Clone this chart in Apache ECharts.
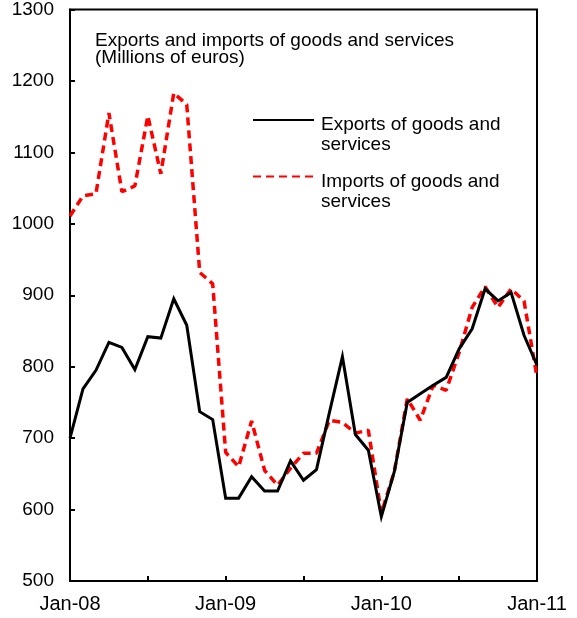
<!DOCTYPE html>
<html><head><meta charset="utf-8">
<script src="https://cdn.jsdelivr.net/npm/echarts@6/dist/echarts.min.js"></script>
<style>html,body{margin:0;padding:0;background:#fff}#c{width:577px;height:618px}</style>
</head><body><div id="c"></div>
<script>
const months = ['Jan-08','Feb-08','Mar-08','Apr-08','May-08','Jun-08','Jul-08','Aug-08','Sep-08','Oct-08','Nov-08','Dec-08',
'Jan-09','Feb-09','Mar-09','Apr-09','May-09','Jun-09','Jul-09','Aug-09','Sep-09','Oct-09','Nov-09','Dec-09',
'Jan-10','Feb-10','Mar-10','Apr-10','May-10','Jun-10','Jul-10','Aug-10','Sep-10','Oct-10','Nov-10','Dec-10','Jan-11'];
const exportsData = [700,769,795,834,827,796,842,840,895,858,737,726,
616,616,646,626,626,668,641,656,736,814,705,683,
590,653,750,762,774,785,825,853,909,892,904,844,802];
const importsData = [1011,1039,1042,1155,1045,1053,1151,1070,1183,1167,932,916,
680,660,724,655,634,658,679,679,725,722,707,711,
595,653,755,725,774,767,820,883,912,883,909,892,785];
const yTicks = {min:500, max:1300, step:100};
const seriesNames = ['Exports of goods and services','Imports of goods and services'];
const legendLines = {'Exports of goods and services':['Exports of goods and','services'],'Imports of goods and services':['Imports of goods and','services']};
const titleText = 'Exports and imports of goods and services\n(Millions of euros)';

const font = 'Liberation Sans, Arial, sans-serif';
const chart = echarts.init(document.getElementById('c'));
chart.setOption({
  animation:false,
  backgroundColor:'#fff',
  title:{text:titleText,left:90,top:27,textStyle:{fontFamily:font,fontSize:19,fontWeight:'normal',color:'#000',lineHeight:17}},
  legend:{orient:'vertical',left:247,top:80,itemWidth:61,itemHeight:14,itemGap:-13,
    data:seriesNames,
    formatter:n=>'{g| }\n' + legendLines[n].map(s=>'{t|'+s+'}').join('\n'),
    itemStyle:{opacity:0,color:'rgba(0,0,0,0)',borderWidth:0},
    textStyle:{fontFamily:font,fontSize:19,color:'#000',padding:[0,0,0,2],
      rich:{g:{fontSize:1,lineHeight:30,height:30},t:{fontFamily:font,fontSize:19,color:'#000',lineHeight:20}}}},
  grid:{left:70,right:40,top:9,bottom:37,show:true,borderColor:'#000',borderWidth:2},
  xAxis:{type:'category',data:months,boundaryGap:false,
    axisLine:{lineStyle:{color:'#000',width:2}},
    axisTick:{inside:true,length:5,lineStyle:{color:'#000',width:2},interval:(i)=>i%6===0},
    axisLabel:{interval:(i)=>i%12===0,color:'#000',fontFamily:font,fontSize:20,margin:13,showMaxLabel:true},
    splitLine:{show:false}},
  yAxis:{type:'value',min:yTicks.min,max:yTicks.max,interval:yTicks.step,
    axisLine:{show:true,lineStyle:{color:'#000',width:2}},
    axisTick:{show:true,inside:true,length:5,lineStyle:{color:'#000',width:2}},
    axisLabel:{color:'#000',fontFamily:font,fontSize:19,margin:16,formatter:v=>String(v)},
    splitLine:{show:false}},
  series:[
    {name:seriesNames[0],type:'line',data:exportsData,symbol:'none',z:3,
     lineStyle:{color:'#000',width:3,cap:'butt',join:'miter'},itemStyle:{color:'#000'}},
    {name:seriesNames[1],type:'line',data:importsData,symbol:'none',z:2,
     lineStyle:{color:'#ff0000',width:3.5,type:[8,5]},itemStyle:{color:'#ff0000'}}
  ]
});
</script></body></html>
